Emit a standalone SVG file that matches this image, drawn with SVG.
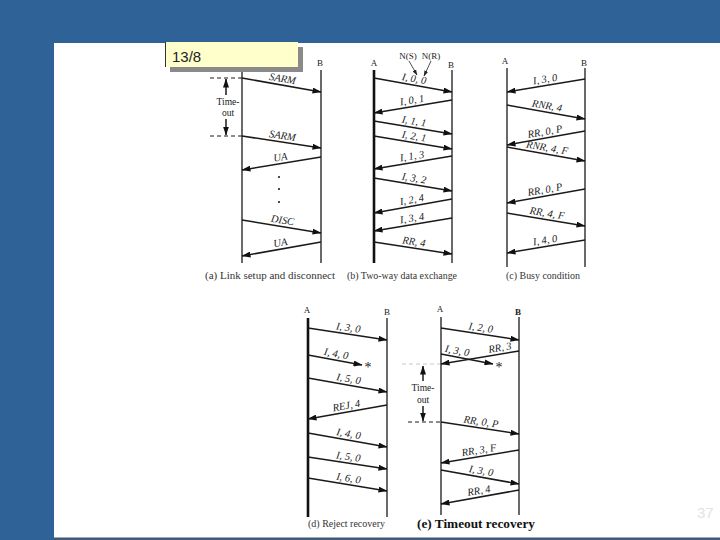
<svg xmlns="http://www.w3.org/2000/svg" width="720" height="540" viewBox="0 0 720 540">
<style>
.ll{stroke:#1a1a1a;stroke-width:1.3;fill:none}
.llt{stroke:#111;stroke-width:2.6;fill:none}
.ar{stroke:#1a1a1a;stroke-width:1.5;fill:none;marker-end:url(#ah)}
.dash{stroke:#1a1a1a;stroke-width:1;stroke-dasharray:4,3;fill:none}
.lb{font-family:"Liberation Serif",serif;font-style:italic;font-size:10.5px;fill:#222;text-anchor:middle}
.nd{font-family:"Liberation Serif",serif;font-size:9px;fill:#222;text-anchor:middle}
.cap{font-family:"Liberation Serif",serif;font-size:9.5px;fill:#333}
.capb{font-family:"Liberation Serif",serif;font-size:12px;font-weight:bold;fill:#111}
.to{font-family:"Liberation Serif",serif;font-size:9.5px;fill:#222;text-anchor:middle}
.x{font-family:"Liberation Serif",serif;font-size:14px;fill:#222;text-anchor:middle}
</style>
<defs>
<marker id="ah" markerWidth="9" markerHeight="6" refX="8.5" refY="3" orient="auto" markerUnits="userSpaceOnUse"><path d="M0,0 L9,3 L0,6 z" fill="#111"/></marker>
<marker id="sah" markerWidth="6" markerHeight="4" refX="5.5" refY="2" orient="auto" markerUnits="userSpaceOnUse"><path d="M0,0 L6,2 L0,4 z" fill="#222"/></marker>
</defs>
<rect width="720" height="540" fill="#2F6398"/>
<rect x="54" y="43" width="666" height="495" fill="#ffffff"/>
<rect x="54" y="537.5" width="666" height="1.5" fill="#4d5560"/>

<g id="panel-a">
<line class="ll" x1="242" y1="60" x2="242" y2="263"/>
<line class="ll" x1="321" y1="70" x2="321" y2="263"/>
<text class="nd" x="320" y="66">B</text>
<line class="dash" x1="210" y1="78" x2="242" y2="78"/>
<line class="dash" x1="210" y1="136" x2="242" y2="136"/>
<line class="ar" x1="226" y1="95" x2="226" y2="79"/>
<line class="ar" x1="226" y1="119" x2="226" y2="135"/>
<text class="to" x="228" y="105">Time-</text>
<text class="to" x="228" y="116">out</text>
</g>

<g id="connectors-a">
<line class="ar" x1="242" y1="78" x2="321" y2="92"/>
<g transform="translate(281.5,85) rotate(10)"><text class="lb" y="-3">SARM</text></g>
<line class="ar" x1="242" y1="136" x2="321" y2="148"/>
<g transform="translate(281.5,142) rotate(8.6)"><text class="lb" y="-3">SARM</text></g>
<line class="ar" x1="321" y1="157" x2="242" y2="170"/>
<g transform="translate(281.5,163.5) rotate(-9.3)"><text class="lb" y="-3">UA</text></g>
<circle cx="279" cy="177" r="1.1" fill="#222"/>
<circle cx="279" cy="189" r="1.1" fill="#222"/>
<circle cx="279" cy="202" r="1.1" fill="#222"/>
<line class="ar" x1="242" y1="220" x2="321" y2="233"/>
<g transform="translate(281.5,226.5) rotate(9.3)"><text class="lb" y="-3">DISC</text></g>
<line class="ar" x1="321" y1="242" x2="242" y2="256"/>
<g transform="translate(281.5,249) rotate(-10)"><text class="lb" y="-3">UA</text></g>
</g>
<text class="cap" x="205" y="279" textLength="130" lengthAdjust="spacingAndGlyphs">(a) Link setup and disconnect</text>

<g id="label-13-8">
<rect x="170" y="47" width="133" height="25" fill="#8a8a8a"/>
<rect x="165" y="42" width="133" height="25" fill="#FFFFCC"/>
<line x1="165.5" y1="42" x2="165.5" y2="67" stroke="#333" stroke-width="1"/>
<text x="172" y="62" font-family="Liberation Sans, Arial, sans-serif" font-size="15" fill="#222">13/8</text>
</g>

<g id="panel-b">
<line class="llt" x1="374" y1="70" x2="374" y2="263"/>
<line class="ll" x1="452" y1="70" x2="452" y2="263"/>
<text class="nd" x="374" y="66">A</text>
<text class="nd" x="451" y="68">B</text>
<text class="nd" x="408" y="59">N(S)</text>
<text class="nd" x="431" y="59">N(R)</text>
</g>
<g id="connectors-b">
<line stroke="#222" stroke-width="0.8" x1="409" y1="61" x2="417" y2="75" marker-end="url(#sah)"/>
<line stroke="#222" stroke-width="0.8" x1="431" y1="61" x2="424" y2="76" marker-end="url(#sah)"/>
<line class="ar" x1="374" y1="78" x2="452" y2="92"/>
<g transform="translate(413,85) rotate(10)"><text class="lb" y="-3">I, 0, 0</text></g>
<line class="ar" x1="452" y1="100" x2="374" y2="113"/>
<g transform="translate(413,106.5) rotate(-9.3)"><text class="lb" y="-3">I, 0, 1</text></g>
<line class="ar" x1="374" y1="121" x2="452" y2="134"/>
<g transform="translate(413,127.5) rotate(9.3)"><text class="lb" y="-3">I, 1, 1</text></g>
<line class="ar" x1="374" y1="136" x2="452" y2="149"/>
<g transform="translate(413,142.5) rotate(9.3)"><text class="lb" y="-3">I, 2, 1</text></g>
<line class="ar" x1="452" y1="156" x2="374" y2="169"/>
<g transform="translate(413,162.5) rotate(-9.3)"><text class="lb" y="-3">I, 1, 3</text></g>
<line class="ar" x1="374" y1="178" x2="452" y2="191"/>
<g transform="translate(413,184.5) rotate(9.3)"><text class="lb" y="-3">I, 3, 2</text></g>
<line class="ar" x1="452" y1="199" x2="374" y2="213"/>
<g transform="translate(413,206) rotate(-10)"><text class="lb" y="-3">I, 2, 4</text></g>
<line class="ar" x1="452" y1="218" x2="374" y2="231"/>
<g transform="translate(413,224.5) rotate(-9.3)"><text class="lb" y="-3">I, 3, 4</text></g>
<line class="ar" x1="374" y1="242" x2="452" y2="254"/>
<g transform="translate(413,248) rotate(8.6)"><text class="lb" y="-3">RR, 4</text></g>
</g>
<text class="cap" x="347" y="279" textLength="110" lengthAdjust="spacingAndGlyphs">(b) Two-way data exchange</text>

<g id="panel-c">
<line class="ll" x1="507" y1="68" x2="507" y2="267"/>
<line class="ll" x1="585" y1="68" x2="585" y2="267"/>
<text class="nd" x="505" y="64">A</text>
<text class="nd" x="584" y="66">B</text>
</g>
<g id="connectors-c">
<line class="ar" x1="585" y1="79" x2="507" y2="92"/>
<g transform="translate(546,85.5) rotate(-9.3)"><text class="lb" y="-3">I, 3, 0</text></g>
<line class="ar" x1="507" y1="105" x2="585" y2="119"/>
<g transform="translate(546,112) rotate(10)"><text class="lb" y="-3">RNR, 4</text></g>
<line class="ar" x1="585" y1="131" x2="507" y2="145"/>
<g transform="translate(546,138) rotate(-10)"><text class="lb" y="-3">RR, 0, P</text></g>
<line class="ar" x1="507" y1="147" x2="585" y2="161"/>
<g transform="translate(546,154) rotate(10)"><text class="lb" y="-3">RNR, 4, F</text></g>
<line class="ar" x1="585" y1="189" x2="507" y2="203"/>
<g transform="translate(546,196) rotate(-10)"><text class="lb" y="-3">RR, 0, P</text></g>
<line class="ar" x1="507" y1="213" x2="585" y2="226"/>
<g transform="translate(546,219.5) rotate(9.3)"><text class="lb" y="-3">RR, 4, F</text></g>
<line class="ar" x1="585" y1="240" x2="507" y2="253"/>
<g transform="translate(546,246.5) rotate(-9.3)"><text class="lb" y="-3">I, 4, 0</text></g>
</g>
<text class="cap" x="506" y="279" textLength="74" lengthAdjust="spacingAndGlyphs">(c) Busy condition</text>

<g id="panel-d">
<line class="llt" x1="308" y1="318" x2="308" y2="517"/>
<line class="ll" x1="387" y1="318" x2="387" y2="517"/>
<text class="nd" x="307" y="313">A</text>
<text class="nd" x="387" y="315">B</text>
<text class="x" x="368" y="372">*</text>
</g>
<g id="connectors-d">
<line class="ar" x1="308" y1="328" x2="387" y2="340"/>
<g transform="translate(347.5,334) rotate(8.6)"><text class="lb" y="-3">I, 3, 0</text></g>
<line class="ar" x1="308" y1="355" x2="362" y2="365"/>
<g transform="translate(335,360) rotate(10.5)"><text class="lb" y="-3">I, 4, 0</text></g>
<line class="ar" x1="308" y1="378" x2="387" y2="392"/>
<g transform="translate(347.5,385) rotate(10)"><text class="lb" y="-3">I, 5, 0</text></g>
<line class="ar" x1="387" y1="405" x2="308" y2="419"/>
<g transform="translate(347.5,412) rotate(-10)"><text class="lb" y="-3">REJ, 4</text></g>
<line class="ar" x1="308" y1="433" x2="387" y2="447"/>
<g transform="translate(347.5,440) rotate(10)"><text class="lb" y="-3">I, 4, 0</text></g>
<line class="ar" x1="308" y1="457" x2="387" y2="469"/>
<g transform="translate(347.5,463) rotate(8.6)"><text class="lb" y="-3">I, 5, 0</text></g>
<line class="ar" x1="308" y1="478" x2="387" y2="491"/>
<g transform="translate(347.5,484.5) rotate(9.3)"><text class="lb" y="-3">I, 6, 0</text></g>
</g>
<text class="cap" x="308" y="527" textLength="77" lengthAdjust="spacingAndGlyphs">(d) Reject recovery</text>

<g id="panel-e">
<line class="ll" x1="441" y1="317" x2="441" y2="515"/>
<line class="ll" x1="519" y1="317" x2="519" y2="515"/>
<text class="nd" x="440" y="312">A</text>
<text class="nd" x="518" y="315" font-weight="bold">B</text>
<line stroke="#c8c8c8" stroke-width="1" stroke-dasharray="4,3" x1="402" y1="364" x2="440" y2="364"/>
<line class="dash" x1="408" y1="422" x2="441" y2="422"/>
<line class="ar" x1="423" y1="381" x2="423" y2="366"/>
<line class="ar" x1="423" y1="406" x2="423" y2="421"/>
<text class="to" x="423" y="391">Time-</text>
<text class="to" x="423" y="403">out</text>
<text class="x" x="499" y="372">*</text>
</g>
<g id="connectors-e">
<line class="ar" x1="441" y1="328" x2="519" y2="340"/>
<g transform="translate(480,334) rotate(8.6)"><text class="lb" y="-3">I, 2, 0</text></g>
<line class="ar" x1="519" y1="351" x2="441" y2="364"/>
<g transform="translate(501,354) rotate(-9.3)"><text class="lb" y="-3">RR, 3</text></g>
<line class="ar" x1="441" y1="354" x2="493" y2="364"/>
<g transform="translate(456,357) rotate(10.7)"><text class="lb" y="-3">I, 3, 0</text></g>
<line class="ar" x1="441" y1="422" x2="519" y2="434"/>
<g transform="translate(480,428) rotate(8.6)"><text class="lb" y="-3">RR, 0, P</text></g>
<line class="ar" x1="519" y1="450" x2="441" y2="463"/>
<g transform="translate(480,456.5) rotate(-9.3)"><text class="lb" y="-3">RR, 3, F</text></g>
<line class="ar" x1="441" y1="470" x2="519" y2="484"/>
<g transform="translate(480,477) rotate(10)"><text class="lb" y="-3">I, 3, 0</text></g>
<line class="ar" x1="519" y1="490" x2="441" y2="504"/>
<g transform="translate(480,497) rotate(-10)"><text class="lb" y="-3">RR, 4</text></g>
</g>
<text class="capb" x="417" y="528" textLength="118" lengthAdjust="spacingAndGlyphs">(e) Timeout recovery</text>

<text x="697" y="518" font-family="Liberation Sans, Arial, sans-serif" font-size="15" fill="#e2e2e2">37</text>
</svg>
